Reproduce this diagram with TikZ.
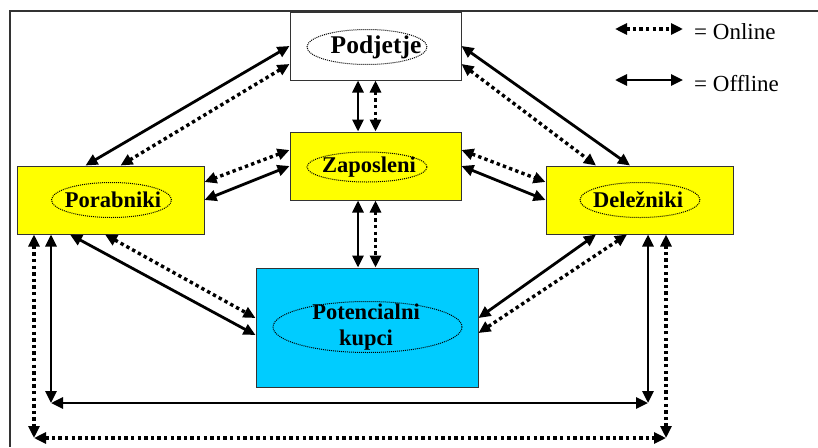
\documentclass[tikz,border=0pt]{standalone}
\usepackage{fontspec}
\setmainfont{Liberation Serif}
\usetikzlibrary{arrows.meta,positioning}
\definecolor{cYellow}{HTML}{FFFF00}
\definecolor{cCyan}{HTML}{00CCFF}
\definecolor{cEdge}{HTML}{333333}
\definecolor{cInk}{HTML}{000000}
\tikzset{
  box/.style={draw=cEdge, line width=1pt, minimum width=187pt,
     minimum height=68pt, inner sep=0pt},
  lbl/.style={inner sep=0pt, align=center, text=cInk,
     font=\fontsize{22.5}{26}\selectfont\bfseries},
  ring/.style={draw=cInk, line width=1pt, dash pattern=on 1pt off 1pt},
  keytext/.style={anchor=west, inner sep=0pt, text=cInk,
     font=\fontsize{23}{26}\selectfont},
  offline/.style={{Triangle[length=12pt,width=11pt]}-{Triangle[length=12pt,width=11pt]},
     line width=2.8pt, draw=cInk},
  online/.style={offline, line width=3.4pt, dash pattern=on 3.4pt off 3.2pt},
}

\begin{document}
\begin{tikzpicture}[x=1pt, y=-1pt]
  \clip (0,0) rectangle (818,447);
  % outer frame (cut by the page on the right and bottom)
  \draw[draw=cEdge, line width=1.8pt] (818,11) -- (10,11) -- (10,447);

  % boxes
  \node[box, fill=white, minimum width=171pt] (pod) at (375.5,46) {};
  \node[box, fill=cYellow, minimum width=171pt] (zap) at (375.5,166) {};
  \node[box, fill=cYellow] (por) at (110.5,200) {};
  \node[box, fill=cYellow] (del) at (639.5,200) {};
  \node[box, fill=cCyan, minimum width=222pt, minimum height=119pt] (pot) at (367,327.5) {};

  % labels with their dotted rings
  \node[lbl, font=\fontsize{25.5}{28}\selectfont\bfseries] (podT) at (376,47) {Podjetje};
  \draw[ring] ([xshift=-9pt]podT.center) ellipse [x radius=60pt, y radius=17.5pt];
  \node[lbl] (zapT) at (369,167) {Zaposleni};
  \draw[ring] ([xshift=-2pt]zapT.center) ellipse [x radius=60pt, y radius=15pt];
  \node[lbl] (porT) at (113,200) {Porabniki};
  \draw[ring] ([xshift=-1.5pt]porT.center) ellipse [x radius=60pt, y radius=17.5pt];
  \node[lbl] (delT) at (638,200) {Deležniki};
  \draw[ring] ([xshift=2pt]delT.center) ellipse [x radius=60pt, y radius=17.5pt];
  \node[lbl] (potT) at (366,327) {Potencialni\\kupci};
  \draw[ring] ([xshift=1.5pt]potT.center) ellipse [x radius=94.5pt, y radius=25.5pt];

  % legend
  \coordinate (onA) at (615,29);
  \coordinate (onB) at (683,29);
  \draw[online] (onA) -- (onB);
  \node[keytext] (onT) at (694,32) {= Online};
  \coordinate (offA) at (615,80);
  \coordinate (offB) at (683,80);
  \draw[offline] (offA) -- (offB);
  \node[keytext] (offT) at (694,84) {= Offline};

  % Podjetje <-> Porabniki
  \draw[offline] (pod.west) -- ([xshift=-25pt]por.north);
  \draw[online] ([yshift=-18pt]pod.west) -- ([xshift=10pt]por.north);
  % Podjetje <-> Zaposleni
  \draw[offline] ([xshift=-17.5pt]pod.south) -- ([xshift=-17.5pt]zap.north);
  \draw[online] (pod.south) -- (zap.north);
  % Podjetje <-> Delezniki
  \draw[offline] (pod.east) -- ([xshift=-9.5pt]del.north);
  \draw[online] ([yshift=-18pt]pod.east) -- ([xshift=-43.5pt]del.north);
  % Zaposleni <-> Porabniki / Delezniki
  \draw[online] ([yshift=16pt]zap.west) -- ([yshift=18pt]por.east);
  \draw[offline] (zap.west) -- (por.east);
  \draw[online] ([yshift=16pt]zap.east) -- ([yshift=18pt]del.west);
  \draw[offline] (zap.east) -- (del.west);
  % Zaposleni <-> Potencialni kupci
  \draw[offline] ([xshift=-17.5pt]zap.south) -- ([xshift=-9pt]pot.north);
  \draw[online] (zap.south) -- ([xshift=8.5pt]pot.north);
  % Porabniki / Delezniki <-> Potencialni kupci
  \draw[offline] ([xshift=-40.5pt]por.south) -- ([yshift=-7.5pt]pot.west);
  \draw[online] ([xshift=-5.5pt]por.south) -- ([yshift=9.5pt]pot.west);
  \draw[offline] ([xshift=-43.5pt]del.south) -- ([yshift=9.5pt]pot.east);
  \draw[online] ([xshift=-12.5pt]del.south) -- ([yshift=-5.5pt]pot.east);

  % Porabniki <-> Delezniki along the bottom
  \coordinate (offL) at (51,403);
  \coordinate (offR) at (648,403);
  \draw[offline] ([xshift=-59.5pt]por.south) -- (offL);
  \draw[offline] (offL) -- (offR);
  \draw[offline] (offR) -- ([xshift=8.5pt]del.south);
  \coordinate (onL) at (34,438);
  \coordinate (onR) at (666,438);
  \draw[online] ([xshift=-76.5pt]por.south) -- (onL);
  \draw[online] (onL) -- (onR);
  \draw[online] (onR) -- ([xshift=26.5pt]del.south);
\end{tikzpicture}
\end{document}
